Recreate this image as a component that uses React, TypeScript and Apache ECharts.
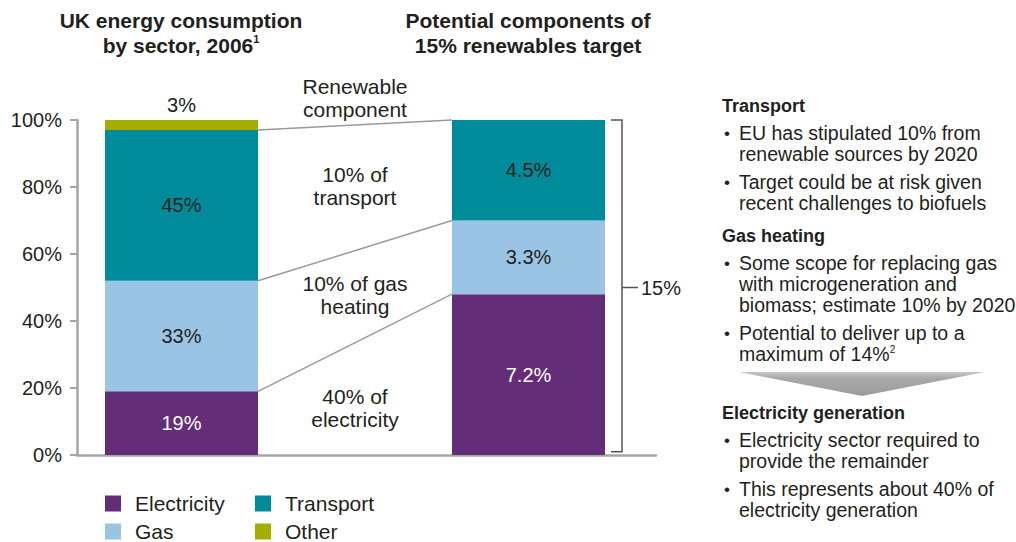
import React, { useEffect, useRef } from 'react';
import * as echarts from 'echarts';

const FONT = '"Liberation Sans", Arial, sans-serif';
const TXT = '#231f20';

const categories = ['UK energy consumption by sector, 2006', 'Potential components of 15% renewables target'];
const sectors = ['Electricity', 'Gas', 'Transport', 'Other'];
const sectorColors = ['#632e77', '#99c4e4', '#008b9b', '#a3ae00'];
const labelColors = ['#ffffff', TXT, TXT, TXT];
const leftValues = [19, 33, 45, 3]; // % of UK energy consumption, 2006
const rightValues = [7.2, 3.3, 4.5, 0]; // contribution (percentage points) to 15% target
const targetTotal = 15;
const yTickInterval = 20;
const legendColumns = [['Electricity', 'Gas'], ['Transport', 'Other']];

// annotation texts between the two bars, with the y value where they are centred
const annotations = [
  { text: 'Renewable\ncomponent', value: 106.5 },
  { text: '10% of\ntransport', value: 80.3 },
  { text: '10% of gas\nheating', value: 47.8 },
  { text: '40% of\nelectricity', value: 14 },
];

const panel: { kind: 'h' | 'b' | 'arrow'; lines?: string[] }[] = [
  { kind: 'h', lines: ['Transport'] },
  { kind: 'b', lines: ['EU has stipulated 10% from', 'renewable sources by 2020'] },
  { kind: 'b', lines: ['Target could be at risk given', 'recent challenges to biofuels'] },
  { kind: 'h', lines: ['Gas heating'] },
  { kind: 'b', lines: ['Some scope for replacing gas', 'with microgeneration and', 'biomass; estimate 10% by 2020'] },
  { kind: 'b', lines: ['Potential to deliver up to a', 'maximum of 14%{s|2}'] },
  { kind: 'arrow' },
  { kind: 'h', lines: ['Electricity generation'] },
  { kind: 'b', lines: ['Electricity sector required to', 'provide the remainder'] },
  { kind: 'b', lines: ['This represents about 40% of', 'electricity generation'] },
];

export default function App() {
  const ref = useRef<HTMLDivElement>(null);
  useEffect(() => {
    const chart = echarts.init(ref.current!, undefined, { renderer: 'svg' });
    const rightShares = rightValues.map((v) => (v ? (v / targetTotal) * 100 : '-'));
    const gridTop = 120;
    const gridBottom = 87;
    const axisColor = '#a6a6a6';
    const legendText = {
      fontSize: 21,
      color: TXT,
      fontFamily: FONT,
      padding: [0, 0, 0, 9],
    };
    chart.setOption({
      animation: false,
      textStyle: { fontFamily: FONT },
      title: [
        {
          text: 'UK energy consumption\n{m|by sector, 2006}{s|1}',
          left: 181,
          top: 8,
          padding: 0,
          textAlign: 'center',
          textStyle: {
            fontSize: 21, fontWeight: 'bold', color: TXT, lineHeight: 25, fontFamily: FONT,
            rich: {
              m: { fontSize: 21, fontWeight: 'bold', color: TXT, lineHeight: 25, fontFamily: FONT },
              s: { fontSize: 11, fontWeight: 'bold', color: TXT, verticalAlign: 'top', lineHeight: 15, fontFamily: FONT },
            },
          },
        },
        {
          text: 'Potential components of\n15% renewables target',
          left: 528,
          top: 8,
          padding: 0,
          textAlign: 'center',
          textStyle: { fontSize: 21, fontWeight: 'bold', color: TXT, lineHeight: 25, fontFamily: FONT },
        },
      ],
      legend: legendColumns.map((col, ci) => ({
        data: col,
        left: ci === 0 ? 105 : 255,
        top: 493,
        padding: 0,
        orient: 'vertical',
        icon: 'rect',
        itemWidth: 16,
        itemHeight: 16,
        itemGap: 7,
        textStyle: legendText,
        selectedMode: false,
      })),
      grid: [
        { left: 8, width: 694, top: gridTop, bottom: gridBottom },
        { left: 77, width: 579, top: gridTop, bottom: gridBottom },
      ],
      xAxis: [
        { type: 'category', gridIndex: 0, data: categories, show: false },
        {
          type: 'value', gridIndex: 1, min: 0, max: 1,
          axisLine: { show: true, lineStyle: { color: axisColor, width: 2.5 } },
          axisTick: { show: false }, axisLabel: { show: false }, splitLine: { show: false },
        },
      ],
      yAxis: [
        { type: 'value', gridIndex: 0, min: 0, max: 100, show: false },
        {
          type: 'value', gridIndex: 1, min: 0, max: 100, interval: yTickInterval,
          axisLine: { show: true, lineStyle: { color: axisColor, width: 2.5 } },
          axisTick: { show: true, length: 7, lineStyle: { color: axisColor, width: 2 } },
          axisLabel: { formatter: '{value}%', fontSize: 20, color: TXT, margin: 15, fontFamily: FONT },
          splitLine: { show: false },
        },
      ],
      series: sectors.map((name, i) => ({
        name,
        type: 'bar',
        stack: 'total',
        xAxisIndex: 0,
        yAxisIndex: 0,
        barWidth: 153,
        itemStyle: { color: sectorColors[i] },
        data: [leftValues[i], rightShares[i]],
        label: {
          show: true,
          position: i === 3 ? 'top' : 'inside',
          fontSize: 20,
          color: labelColors[i],
          fontFamily: FONT,
          formatter: (p: any) => (p.dataIndex === 0 ? `${leftValues[i]}%` : `${rightValues[i]}%`),
        },
      })),
    });

    // derived geometry from the chart's own scales
    const px = (cat: number, v: number) =>
      chart.convertToPixel({ xAxisIndex: 0, yAxisIndex: 0 }, [cat, v]) as number[];
    const half = 153 / 2;
    const cum = (arr: number[]) => {
      let s = 0;
      return arr.map((v) => (s += v));
    };
    const leftCum = cum(leftValues);
    const rightCum = cum(rightValues.map((v) => (v / targetTotal) * 100));
    const lx = px(0, 0)[0] + half;
    const rx = px(1, 0)[0] - half;
    const graphics: any[] = [];
    for (let i = 0; i < 3; i++) {
      graphics.push({
        type: 'line',
        shape: { x1: lx, y1: px(0, leftCum[i])[1], x2: rx, y2: px(1, rightCum[i])[1] },
        style: { stroke: '#9a9a9a', lineWidth: 1.5 },
        z: 10,
      });
    }
    const midX = (lx + rx) / 2;
    annotations.forEach((a) => {
      graphics.push({
        type: 'text',
        x: midX,
        y: px(0, a.value)[1],
        style: {
          text: a.text, fontSize: 21, fill: TXT, fontFamily: FONT,
          align: 'center', verticalAlign: 'middle', lineHeight: 23,
        },
        z: 10,
      });
    });
    // bracket for the 15% bar
    const bx = px(1, 0)[0] + half + 17;
    const byTop = px(1, 100)[1];
    const byBot = px(1, 1)[1];
    const byMid = px(1, 50)[1];
    const bStyle = { stroke: '#555', lineWidth: 1.5 };
    graphics.push(
      { type: 'polyline', shape: { points: [[bx - 11, byTop], [bx, byTop], [bx, byBot], [bx - 11, byBot]] }, style: { ...bStyle, fill: null } },
      { type: 'line', shape: { x1: bx, y1: byMid, x2: bx + 16, y2: byMid }, style: bStyle },
      {
        type: 'text', x: bx + 19, y: byMid,
        style: { text: `${targetTotal}%`, fontSize: 20, fill: TXT, fontFamily: FONT, verticalAlign: 'middle' },
      },
    );

    // right text panel
    let y = 106;
    const px0 = 722;
    panel.forEach((blk, bi) => {
      if (blk.kind === 'h') {
        if (bi > 0) y += panel[bi - 1].kind === 'arrow' ? 17 : 33;
        graphics.push({
          type: 'text', x: px0, y,
          style: { text: blk.lines![0], fontSize: 18, fontWeight: 'bold', fill: TXT, fontFamily: FONT, verticalAlign: 'middle' },
        });
      } else if (blk.kind === 'b') {
        y += panel[bi - 1].kind === 'h' ? 27 : 28;
        graphics.push({
          type: 'text', x: px0 + 2, y,
          style: { text: '•', fontSize: 17, fill: TXT, fontFamily: FONT, verticalAlign: 'middle' },
        });
        blk.lines!.forEach((ln, li) => {
          if (li > 0) y += 21;
          graphics.push({
            type: 'text', x: px0 + 17, y,
            style: {
              text: ln, fontSize: 19.5, fill: TXT, fontFamily: FONT, verticalAlign: 'middle',
              rich: { s: { fontSize: 10, fill: TXT, fontFamily: FONT, verticalAlign: 'top', lineHeight: 15 } },
            },
          });
        });
      } else {
        const top = y + 18;
        graphics.push({
          type: 'polygon',
          shape: { points: [[px0 + 17, top], [px0 + 263, top], [px0 + 140, top + 24]] },
          style: {
            fill: new echarts.graphic.LinearGradient(0, 0, 0, 1, [
              { offset: 0, color: '#c8c8c8' },
              { offset: 0.25, color: '#a9a9a9' },
              { offset: 1, color: '#9b9b9b' },
            ]),
          },
        });
        y = top + 24;
      }
    });
    chart.setOption({ graphic: graphics });
    return () => chart.dispose();
  }, []);
  return (
    <div
      ref={ref}
      style={{ position: 'fixed', left: 0, top: 0, width: 1016, height: 542, background: '#fff' }}
    />
  );
}
